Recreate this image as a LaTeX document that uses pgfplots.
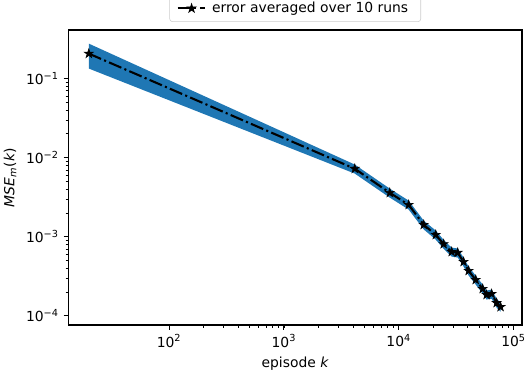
\documentclass[border=0pt]{standalone}
\usepackage{pgfplots}
\pgfplotsset{compat=1.18}
\usepackage{fontspec}
\setmainfont{DejaVu Sans}
\definecolor{tabblue}{HTML}{1F77B4}
\pgfdeclareplotmark{fstar}{%
  \pgfpathmoveto{\pgfpointpolar{90}{\pgfplotmarksize}}%
  \pgfpathlineto{\pgfpointpolar{126}{0.382\pgfplotmarksize}}%
  \pgfpathlineto{\pgfpointpolar{162}{\pgfplotmarksize}}%
  \pgfpathlineto{\pgfpointpolar{198}{0.382\pgfplotmarksize}}%
  \pgfpathlineto{\pgfpointpolar{234}{\pgfplotmarksize}}%
  \pgfpathlineto{\pgfpointpolar{270}{0.382\pgfplotmarksize}}%
  \pgfpathlineto{\pgfpointpolar{306}{\pgfplotmarksize}}%
  \pgfpathlineto{\pgfpointpolar{342}{0.382\pgfplotmarksize}}%
  \pgfpathlineto{\pgfpointpolar{18}{\pgfplotmarksize}}%
  \pgfpathlineto{\pgfpointpolar{54}{0.382\pgfplotmarksize}}%
  \pgfpathclose\pgfusepathqfillstroke}
\begin{document}
\begin{tikzpicture}
\path[use as bounding box] (-49.3pt,-36pt) rectangle (329.4pt,234pt);
\begin{axis}[
  scale only axis, width=326.5pt, height=212.4pt,
  xmode=log, ymode=log,
  xmin=13.3, xmax=118300, ymin=7.67e-5, ymax=0.412,
  axis line style={line width=0.8pt},
  tick align=outside, tick pos=left,
  major tick length=3.5pt, minor tick length=2pt,
  every tick/.style={black, line width=0.8pt},
  minor tick style={line width=0.6pt},
  xtick={100,1000,10000,100000},
  xticklabels={10\textsuperscript{2},10\textsuperscript{3},10\textsuperscript{4},10\textsuperscript{5}},
  ytick={1e-4,1e-3,1e-2,1e-1},
  yticklabels={10\textsuperscript{−4},10\textsuperscript{−3},10\textsuperscript{−2},10\textsuperscript{−1}},
  ticklabel style={font=\fontsize{10}{12}\selectfont},
  xlabel={episode \textit{k}},
  ylabel={\textit{MSE}\textsubscript{\textit{m}}(\textit{k})},
  label style={font=\fontsize{10}{12}\selectfont},
  legend style={at={(0.5,1)}, anchor=south, yshift=5.8pt, draw=black!20, rounded corners=2pt,
    font=\fontsize{10}{12}\selectfont, inner xsep=5pt, inner ysep=3pt,
    nodes={inner xsep=4pt}},
  legend cell align=left,
  legend image code/.code={\draw[mark repeat=2,mark phase=2,#1] plot coordinates {(0pt,0pt) (10pt,0pt) (20pt,0pt)};},
]
\addplot[fill=tabblue, draw=none, forget plot] coordinates {
(20,0.277) (4140,0.0082) (8350,0.00407) (12200,0.00287) (16500,0.0016) (21000,0.0012)
(24600,0.000915) (28900,0.00073) (32600,0.000712) (36700,0.000546) (40600,0.00042)
(46800,0.000323) (53800,0.000249) (58200,0.000209) (64400,0.000215) (71200,0.000165)
(77100,0.000147)
(77100,0.000113) (71200,0.000127) (64400,0.000165) (58200,0.000161) (53800,0.000191)
(46800,0.000249) (40600,0.000324) (36700,0.00042) (32600,0.000548) (28900,0.000562)
(24600,0.000705) (21000,0.00092) (16500,0.00124) (12200,0.00221) (8350,0.00313)
(4140,0.0063) (20,0.134)
} -- cycle;
\addplot[black, line width=1.5pt, dash pattern=on 9.6pt off 2.4pt on 1.5pt off 2.4pt,
  mark=fstar, mark size=3.3pt, mark options={solid, fill=black, line width=0.5pt}] coordinates {
(20,0.207) (4140,0.00726) (8350,0.0036) (12200,0.00254) (16500,0.00142) (21000,0.00106)
(24600,0.00081) (28900,0.000646) (32600,0.00063) (36700,0.000483) (40600,0.000372)
(46800,0.000286) (53800,0.00022) (58200,0.000185) (64400,0.00019) (71200,0.000146)
(77100,0.00013)
};
\addlegendentry{error averaged over 10 runs}
\end{axis}
\end{tikzpicture}
\end{document}
